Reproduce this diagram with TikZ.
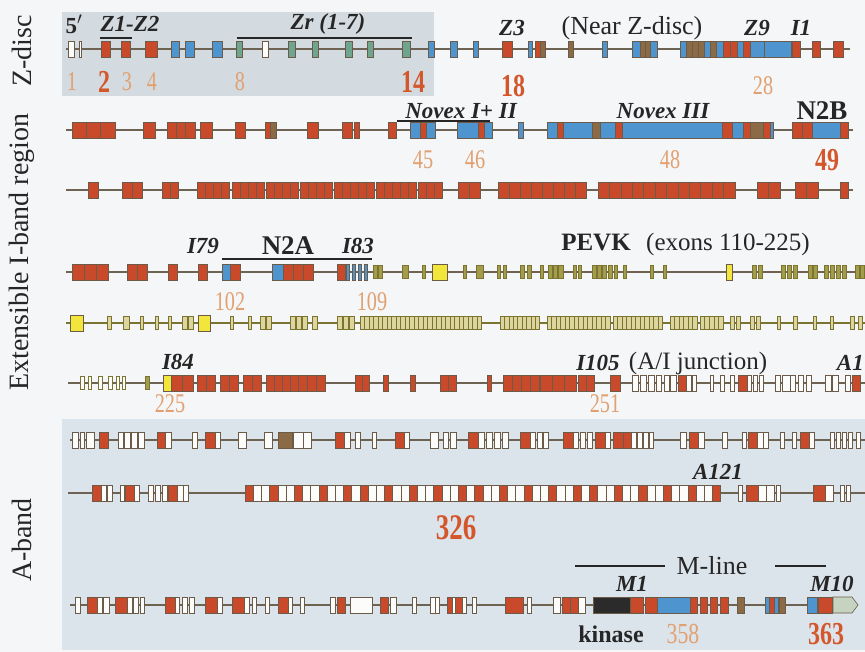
\documentclass[tikz,border=0pt]{standalone}
\usepackage{fontspec}
\setmainfont{Liberation Serif}
\definecolor{bg}{HTML}{F4F6F8}
\definecolor{zbox}{HTML}{D3DBE1}
\definecolor{abox}{HTML}{DCE4EB}
\definecolor{cR}{HTML}{C94A2B}
\definecolor{cB}{HTML}{4E94CF}
\definecolor{cT}{HTML}{6FA58E}
\definecolor{cN}{HTML}{8A6B45}
\definecolor{cO}{HTML}{A39C4A}
\definecolor{cP}{HTML}{DCD69E}
\definecolor{cY}{HTML}{F2E63C}
\definecolor{cW}{HTML}{FCFCFA}
\definecolor{cK}{HTML}{2B2B2B}
\definecolor{cL}{HTML}{C5D3C0}
\definecolor{exl}{HTML}{6B5B48}
\definecolor{intr}{HTML}{6E6352}
\definecolor{oline}{HTML}{7A7430}
\definecolor{txt}{HTML}{262626}
\definecolor{nbig}{HTML}{D4572C}
\definecolor{nsm}{HTML}{E2A070}
\tikzset{
 exon/.style={draw=exl, line width=0.6pt},
 exsmall/.style={draw=oline, line width=0.6pt},
 intron/.style={draw=intr, line width=1.5pt},
 ointron/.style={draw=oline, line width=1.5pt},
 side/.style={font=\fontsize{28}{28}\selectfont, text=txt, rotate=90, inner sep=0},
 lab/.style={font=\fontsize{23}{23}\selectfont\bfseries\itshape, text=txt, inner sep=0},
 rlab/.style={font=\fontsize{26}{26}\selectfont, text=txt, inner sep=0},
 blab/.style={font=\fontsize{27}{27}\selectfont\bfseries, text=txt, inner sep=0},
 bnum/.style={font=\fontsize{32}{32}\selectfont\bfseries, text=nbig, inner sep=0},
 snum/.style={font=\fontsize{27}{27}\selectfont, text=nsm, inner sep=0},
 bar/.style={draw=txt, line width=1.2pt},
}
\newcommand{\nar}[1]{\scalebox{0.75}[1]{#1}}
\newcommand{\exs}[2]{\foreach \xa/\w/\cc in {#2}{\filldraw[exon, fill=\cc] (\xa,#1-8) rectangle ++(\w,16);}}
\newcommand{\exc}[2]{\foreach \xa/\n/\w/\cc in {#2}{\foreach \i in {1,...,\n}{\filldraw[exon, fill=\cc] ({\xa+(\i-1)*\w},#1-8) rectangle ++(\w,16);}}}
\newcommand{\exsm}[2]{\foreach \xa/\w/\cc in {#2}{\filldraw[exsmall, fill=\cc] (\xa,#1-6.5) rectangle ++(\w,13);}}
\newcommand{\excsm}[2]{\foreach \xa/\n/\w/\cc in {#2}{\foreach \i in {1,...,\n}{\filldraw[exsmall, fill=\cc] ({\xa+(\i-1)*\w},#1-6.5) rectangle ++(\w,13);}}}
\begin{document}
\begin{tikzpicture}[x=1pt,y=-1pt]
\useasboundingbox (0,0) rectangle (865,652);
\fill[bg] (0,0) rectangle (865,652);
\fill[zbox] (62,12) rectangle (434,96);
\fill[abox] (62,419) rectangle (865,650);

% side labels
\node[side] (sz) at (22,51) {Z-disc};
\node[side] (si) at (22,252) {Extensible I-band region};
\node[side] (sa) at (22,540) {A-band};

% ---------- Row 1 ----------
\coordinate (r1a) at (66,49); \coordinate (r1b) at (850,49);
\draw[intron] (r1a) -- (r1b);
\exs{49}{68/6/cW, 79/2/cW, 101/9/cR, 121/9/cR, 145/12/cR, 171/8/cB, 185/9/cB, 212/10/cB, 236/6/cT, 262/6/cW, 288/7/cT, 312/6/cT, 345/7/cT, 367/6/cT, 402/8/cT, 428/6/cB, 450/7/cB, 473/5/cB, 502/10/cR, 528/4/cB, 535/5/cR, 540/5/cN, 568/5/cN, 602/5/cB, 632/8/cB, 640/5/cN, 645/5/cN, 650/7/cB, 680/6/cB, 686/6/cN, 692/6/cN, 698/6/cN, 704/6/cB, 710/6/cN, 716/7/cB, 723/7/cR, 730/7/cR, 737/6/cB, 743/7/cR, 750/14/cB, 764/27/cB, 792/8/cR, 812/8/cR, 833/10/cR}
\node[lab,font=\fontsize{23}{23}\selectfont\bfseries] (l5) at (74,24) {5$'$};
\node[lab] (lz12) at (130,24) {Z1-Z2};
\node[lab] (lzr) at (328,24) {Zr (1-7)};
\draw[bar] (100,38) -- (132,38);
\draw[bar] (237,38) -- (412,38);
\node[lab] (lz3) at (512,28) {Z3};
\node[rlab] (lnz) at (632,28) {(Near Z-disc)};
\node[lab] (lz9) at (757,28) {Z9};
\node[lab] (li1) at (801,28) {I1};
\node[snum] (n1) at (72,82) {\nar{1}};
\node[bnum] (n2) at (104,82) {\nar{2}};
\node[snum] (n3) at (127,82) {\nar{3}};
\node[snum] (n4) at (152,82) {\nar{4}};
\node[snum] (n8) at (240,82) {\nar{8}};
\node[bnum] (n14) at (413,82) {\nar{14}};
\node[bnum] (n18) at (513,86) {\nar{18}};
\node[snum] (n28) at (763,86) {\nar{28}};

% ---------- Row 2 ----------
\coordinate (r2a) at (66,130); \coordinate (r2b) at (853,130);
\draw[intron] (r2a) -- (r2b);
\exs{130}{72/14/cR, 86/14/cR, 100/15/cR, 143/12/cR, 167/9/cR, 176/9/cR, 185/10/cR, 200/12/cR, 235/10/cR, 265/5/cR, 270/6/cN, 307/11/cR, 342/10/cR, 354/5/cR, 388/8/cR, 410/25/cB, 420/6/cR, 457/35/cB, 478/6/cR, 518/5/cB, 547/226/cB, 557/6/cR, 592/8/cN, 615/7/cR, 722/10/cR, 743/7/cR, 750/13/cN, 763/7/cR, 792/10/cR, 802/10/cR, 812/28/cB, 840/8/cR}
\node[lab] (lnv1) at (461,111) {Novex I+ II};
\draw[bar] (397,121) -- (490,121);
\node[lab] (lnv3) at (663,111) {Novex III};
\node[blab] (ln2b) at (822,111) {N2B};
\node[snum] (n45) at (423,160) {\nar{45}};
\node[snum] (n46) at (475,160) {\nar{46}};
\node[snum] (n48) at (670,160) {\nar{48}};
\node[bnum] (n49) at (827,160) {\nar{49}};

% ---------- Row 3 ----------
\coordinate (r3a) at (66,190); \coordinate (r3b) at (853,190);
\draw[intron] (r3a) -- (r3b);
\exc{190}{88/1/10/cR, 122/2/10/cR, 162/2/8/cR, 197/4/8/cR, 232/4/8/cR, 266/4/8/cR, 300/4/8/cR, 334/5/8/cR, 376/5/8/cR, 418/3/8/cR, 458/2/11/cR, 498/8/11/cR, 598/12/11.4/cR, 757/2/11.5/cR, 795/2/11.5/cR, 840/1/8/cR}

% ---------- Row 4 ----------
\coordinate (r4a) at (66,272); \coordinate (r4b) at (865,272);
\draw[intron] (r4a) -- (r4b);
\exc{272}{72/3/12/cR, 127/2/10/cR, 168/1/9/cR, 198/1/9/cR, 230/1/10/cR, 283/3/10/cR, 337/1/8/cR}
\exs{272}{222/8/cB, 272/11/cB, 346/3/cB, 352/3/cB, 358/3/cB, 364/3/cB, 432/15/cY, 726/6/cY}
\exsm{272}{373/4/cO, 378/4/cO, 402/6/cO, 422/3/cO, 463/3/cO, 476/7/cO, 497/3/cO, 503/3/cO, 520/4/cO, 527/4/cO, 540/3/cO, 548/4/cO, 553/4/cO, 558/5/cO, 573/3/cO, 578/3/cO, 592/4/cO, 597/4/cO, 602/4/cO, 608/4/cO, 614/3/cO, 623/3/cO, 650/3/cO, 663/3/cO, 752/4/cO, 758/4/cO, 781/4/cO, 787/4/cO, 793/4/cO, 808/4/cO, 813/4/cO, 824/4/cO, 830/4/cO, 836/4/cO, 842/4/cO, 855/4/cO, 860/4/cO}
\node[lab] (li79) at (203,246) {I79};
\node[blab] (ln2a) at (288,246) {N2A};
\node[lab] (li83) at (358,246) {I83};
\draw[bar] (222,259) -- (372,259);
\node[blab,font=\fontsize{25}{25}\selectfont\bfseries] (lpevk) at (596,243) {PEVK};
\node[rlab,font=\fontsize{25}{25}\selectfont] (lexn) at (728,244) {(exons 110-225)};
\node[snum] (n102) at (230,302) {\nar{102}};
\node[snum] (n109) at (372,302) {\nar{109}};

% ---------- Row 5 ----------
\coordinate (r5a) at (66,323); \coordinate (r5b) at (865,323);
\draw[ointron] (r5a) -- (r5b);
\exs{323}{70/13/cY, 198/12/cY}
\exsm{323}{107/4/cP, 123/6/cP, 140/3/cP, 155/3/cP, 168/3/cP, 182/5/cP, 188/5/cP, 230/3/cP, 248/3/cP, 260/5/cP, 266/5/cP, 290/5/cP, 296/5/cP, 302/5/cP, 312/5/cP, 337/5/cP, 343/5/cP, 349/5/cP, 730/4/cP, 736/4/cP, 750/4/cP, 756/4/cP, 777/3/cP, 793/4/cP, 813/3/cP, 830/3/cP, 850/4/cP, 858/4/cP}
\excsm{323}{360/27/4.5/cP, 500/9/4.4/cP, 547/14/4.5/cP, 613/11/4.5/cP, 670/6/4.5/cP, 700/5/4.6/cP}

% ---------- Row 6 ----------
\coordinate (r6a) at (68,383); \coordinate (r6b) at (865,383);
\draw[intron] (r6a) -- (r6b);
\exsm{383}{80/4/cW, 88/3/cW, 98/4/cW, 108/4/cW, 116/3/cW, 122/3/cW, 145/4/cO}
\exs{383}{163/8/cY}
\exc{383}{171/2/11/cR, 197/2/9/cR, 220/2/9/cR, 243/2/9/cR, 266/4/8/cR, 298/3/9/cR, 355/2/7/cR, 383/1/5/cR, 410/1/5/cR, 440/2/8/cR, 487/1/4/cR, 503/4/9/cR, 540/3/12/cR, 578/2/8/cR, 610/1/10/cR}
\exs{383}{632/6/cW, 640/6/cW, 648/6/cW, 656/5/cW, 664/5/cW, 670/6/cW, 678/8/cR, 686/5/cW, 692/4/cW, 710/3/cW, 720/4/cW, 730/4/cW, 738/9/cR, 747/4/cW, 753/4/cW, 759/4/cW, 775/5/cW, 782/8/cW, 790/5/cW, 798/5/cW, 806/5/cW, 825/6/cW, 832/6/cW, 845/5/cW, 852/8/cR}
\node[lab] (li84) at (178,362) {I84};
\node[lab] (li105) at (598,363) {I105};
\node[rlab,font=\fontsize{25}{25}\selectfont] (laij) at (698,363) {(A/I junction)};
\node[lab,anchor=east] (la1) at (864,363) {A1};
\node[snum] (n225) at (170,404) {\nar{225}};
\node[snum] (n251) at (605,404) {\nar{251}};

% ---------- Row 7 ----------
\coordinate (r7a) at (70,440); \coordinate (r7b) at (865,440);
\draw[intron] (r7a) -- (r7b);
\exs{440}{72/6/cW, 80/4/cW, 86/8/cW, 99/9/cR, 118/5/cW, 124/6/cW, 131/6/cW, 138/6/cW, 157/8/cR, 165/6/cW, 192/5/cW, 205/10/cR, 215/5/cW, 238/8/cW, 264/8/cW, 278/14/cN, 293/10/cW, 303/8/cW, 335/9/cR, 344/6/cW, 355/5/cW, 372/4/cW, 395/9/cR, 404/5/cW, 430/8/cW, 443/5/cW, 450/6/cW, 468/10/cR, 478/6/cW, 486/6/cW, 494/6/cW, 502/6/cW, 520/10/cR, 530/5/cW, 537/5/cW, 543/5/cW, 563/10/cR, 573/5/cW, 580/5/cW, 587/5/cW, 595/10/cR, 605/5/cW, 613/10/cR, 623/8/cR, 631/5/cW, 637/5/cW, 643/5/cW, 649/4/cW, 680/6/cW, 689/9/cR, 698/6/cW, 722/5/cW, 742/4/cW, 748/9/cR, 757/6/cW, 763/5/cW, 780/4/cW, 792/4/cW, 800/9/cR, 809/5/cW, 830/4/cW, 836/4/cW, 842/4/cW, 848/4/cW, 856/4/cW}

% ---------- Row 8 ----------
\coordinate (r8a) at (68,493); \coordinate (r8b) at (865,493);
\draw[intron] (r8a) -- (r8b);
\exs{493}{92/9/cR, 101/5/cW, 107/5/cW, 120/4/cW, 125/9/cR, 134/5/cW, 148/5/cW, 155/5/cW, 162/5/cW, 168/9/cR, 177/6/cW, 183/5/cW}
\foreach \k in {0,...,57}{\filldraw[exon, fill=cW] ({245+\k*8.2},485) rectangle ++(8.2,16);}
\foreach \k in {0,3,6,9,12,14,17,20,23,26,28,31,34,37,40,42,45,48,51,54,57}{\filldraw[exon, fill=cR] ({245+\k*8.2},485) rectangle ++(8.2,16);}
\exs{493}{738/4/cW, 746/12/cR, 758/8/cW, 766/8/cW, 776/4/cW, 813/12/cR, 825/8/cW, 840/4/cW, 846/4/cW}
\node[lab] (la121) at (718,472) {A121};
\node[bnum,font=\fontsize{36}{36}\selectfont\bfseries] (n326) at (456,528) {\nar{326}};

% ---------- Row 9 ----------
\coordinate (r9a) at (70,605); \coordinate (r9b) at (833,605);
\draw[intron] (r9a) -- (r9b);
\exs{605}{75/5/cW, 87/10/cR, 97/5/cW, 103/6/cW, 115/12/cR, 127/5/cW, 133/5/cW, 140/4/cW, 165/10/cR, 175/4/cW, 182/5/cW, 189/5/cW, 205/12/cR, 217/5/cW, 232/12/cR, 244/5/cW, 252/4/cW, 265/4/cW, 278/10/cR, 288/4/cW, 300/4/cW, 330/5/cW, 337/8/cR, 350/22/cW, 380/8/cR, 390/6/cW, 412/4/cW, 430/5/cW, 435/4/cW, 447/15/cR, 452/3/cW, 462/4/cW, 472/4/cW, 505/18/cR, 527/4/cW, 553/7/cW, 562/8/cR, 570/8/cR, 578/7/cW, 593/37/cK, 630/13/cR, 645/12/cR, 657/33/cB, 690/7/cR, 700/7/cR, 710/7/cR, 720/8/cR, 737/7/cN, 765/13/cB, 769/5/cR, 779/6/cN, 807/10/cB, 818/14/cR}
\filldraw[exon, fill=cL] (833,597) -- (852,597) -- (858,605) -- (852,613) -- (833,613) -- cycle;
\draw[bar] (575,566) -- (665,566);
\node[rlab] (lml) at (712,566) {M-line};
\draw[bar] (775,566) -- (826,566);
\node[lab] (lm1) at (632,584) {M1};
\node[lab] (lm10) at (832,584) {M10};
\node[blab,font=\fontsize{24}{24}\selectfont\bfseries] (lkin) at (611,634) {kinase};
\node[snum,font=\fontsize{29}{29}\selectfont] (n358) at (683,634) {\nar{358}};
\node[bnum] (n363) at (826,634) {\nar{363}};
\end{tikzpicture}
\end{document}
